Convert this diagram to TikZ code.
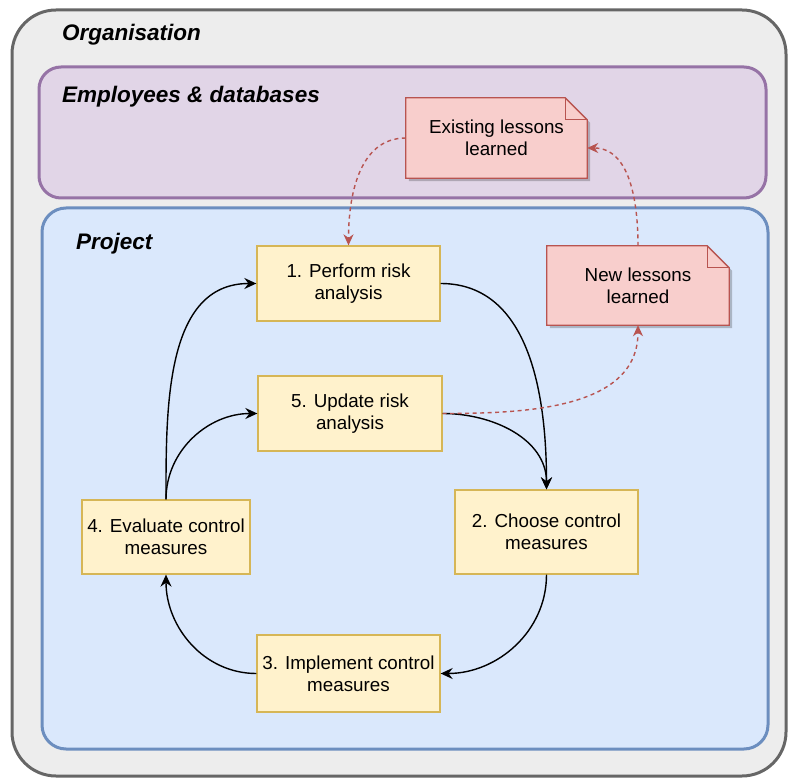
\documentclass[tikz,border=0pt]{standalone}
\usepackage{fontspec}
\setmainfont{Liberation Sans}
\usetikzlibrary{arrows.meta,calc}

\definecolor{orgfill}{HTML}{EDEDED}
\definecolor{orgline}{HTML}{666666}
\definecolor{empfill}{HTML}{E1D5E7}
\definecolor{empline}{HTML}{9673A6}
\definecolor{projfill}{HTML}{DAE8FC}
\definecolor{projline}{HTML}{6C8EBF}
\definecolor{stepfill}{HTML}{FFF2CC}
\definecolor{stepline}{HTML}{D6B656}
\definecolor{notefill}{HTML}{F8CECC}
\definecolor{noteline}{HTML}{B85450}

\pgfdeclarelayer{back}
\pgfdeclarelayer{mid}
\pgfsetlayers{back,mid,main}

\tikzset{
  container/.style={line width=3pt},
  grouptitle/.style={anchor=west, inner sep=0pt,
    font=\fontsize{22.5}{27}\selectfont\bfseries\itshape},
  stepbox/.style={draw=stepline, fill=stepfill, line width=1.3pt,
    inner sep=0pt, align=center, font=\fontsize{18.8}{22}\selectfont},
  notebox/.style={inner sep=0pt, align=center, font=\fontsize{18.8}{22}\selectfont},
  notebody/.style={draw=noteline, fill=notefill, line width=1.3pt, line join=miter},
  noteshadow/.style={fill=black, fill opacity=0.22},
  flow/.style={line width=1.4pt, -{Stealth[length=12pt,width=11pt,inset=4pt]}},
  lesson/.style={line width=1.4pt, draw=noteline, dash pattern=on 4pt off 3.5pt,
    -{Stealth[length=11pt,width=10pt,inset=3.5pt]}},
}

\begin{document}
\begin{tikzpicture}[x=1pt,y=-1pt]
\useasboundingbox (0,0) rectangle (788,778);

% containers
\begin{pgfonlayer}{back}
  \draw[container, draw=orgline, fill=orgfill, rounded corners=44pt] (12,10) rectangle (786,776);
  \draw[container, draw=empline, fill=empfill, rounded corners=22pt] (39,67) rectangle (766,198);
  \draw[container, draw=projline, fill=projfill, rounded corners=24pt] (42,208) rectangle (768,749);
\end{pgfonlayer}

\node[grouptitle] (torg) at (62,35) {Organisation};
\node[grouptitle] (temp) at (62,97) {Employees \& databases};
\node[grouptitle] (tproj) at (76,244) {Project};

% process steps
\node[stepbox, minimum width=183pt, minimum height=75pt] (s1) at (348.5,283.5) {1. Perform risk\\analysis};
\node[stepbox, minimum width=184pt, minimum height=75pt] (s5) at (350,413.5) {5. Update risk\\analysis};
\node[stepbox, minimum width=183pt, minimum height=84pt] (s2) at (546.5,532) {2. Choose control\\measures};
\node[stepbox, minimum width=168pt, minimum height=74pt] (s4) at (166,537) {4. Evaluate control\\measures};
\node[stepbox, minimum width=183pt, minimum height=77pt] (s3) at (348.5,673.5) {3. Implement control\\measures};

% lessons learned notes
\node[notebox, minimum width=181pt, minimum height=80pt] (el) at (496.5,138) {Existing lessons\\learned};
\node[notebox, minimum width=182pt, minimum height=79pt] (nl) at (638,285.5) {New lessons\\learned};

\begin{pgfonlayer}{mid}
  \foreach \n in {el,nl}{
    \fill[noteshadow] ($(\n.north west)+(3,3)$) -- ($(\n.north east)+(-19,3)$) -- ($(\n.north east)+(3,25)$)
      -- ($(\n.south east)+(3,3)$) -- ($(\n.south west)+(3,3)$) -- cycle;
    \path[notebody] (\n.north west) -- ($(\n.north east)+(-22,0)$) -- ($(\n.north east)+(0,22)$)
      -- (\n.south east) -- (\n.south west) -- cycle;
    \draw[draw=noteline, line width=1.3pt] ($(\n.north east)+(-22,0)$) |- ($(\n.north east)+(0,22)$);
  }
\end{pgfonlayer}

% control cycle
\draw[flow] (s1.east) to[out=0, in=90] (s2.north);
\draw[flow] (s5.east) to[out=0, in=90] (s2.north);
\draw[flow] (s2.south) to[out=-90, in=0] (s3.east);
\draw[flow] (s3.west) to[out=180, in=-90] (s4.south);
\draw[flow] (s4.north) to[out=90, in=180] (s1.west);
\draw[flow] (s4.north) to[out=90, in=180] (s5.west);

% knowledge exchange
\draw[lesson] (el.west) to[out=180, in=90] (s1.north);
\draw[lesson] (nl.north) to[out=90, in=0] ($(el.east)+(0,10)$);
\draw[lesson] (s5.east) to[out=0, in=-90] (nl.south);

\end{tikzpicture}
\end{document}
